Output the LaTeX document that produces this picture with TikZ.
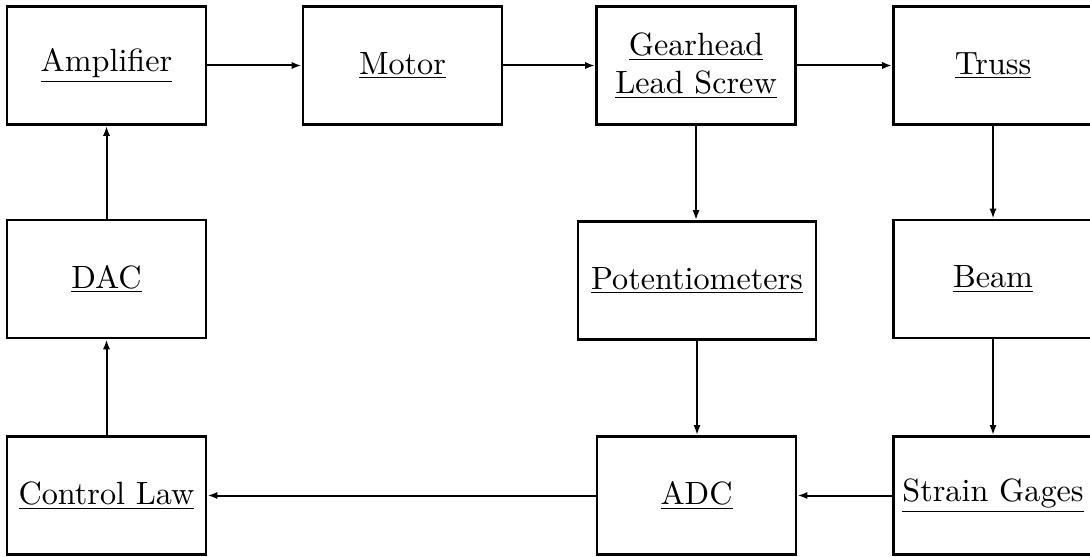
\documentclass[tikz,border=0pt]{standalone}
\usepackage{fontspec}
\setmainfont{lmroman10-regular.otf}
\usetikzlibrary{arrows.meta}
\begin{document}
\begin{tikzpicture}[x=0.5pt,y=-0.5pt,
  blk/.style={draw,line width=1.4pt,minimum width=99.5pt,minimum height=59pt,inner sep=0pt,align=center,font=\fontsize{16.1}{19}\selectfont},
  wideblk/.style={blk,minimum width=119pt},
  conn/.style={line width=1pt,-{Latex[length=5pt,width=3.6pt]}}]
\clip (0,0) rectangle (1090,556);
\node[blk] (amp) at (106.5,65.5) {\underline{Amplifier}};
\node[blk] (motor) at (402.5,65.5) {\underline{Motor}};
\node[blk] (gear) at (696,65.5) {\underline{Gearhead}\\\underline{Lead Screw}};
\node[blk] (truss) at (993,65.5) {\underline{Truss}};
\node[blk] (dac) at (106.5,279) {\underline{DAC}};
\node[wideblk] (pot) at (697,280.5) {\underline{Potentiometers}};
\node[blk] (beam) at (993,279) {\underline{Beam}};
\node[blk] (ctrl) at (106.5,495.5) {\underline{Control Law}};
\node[blk] (adc) at (696.5,495.5) {\underline{ADC}};
\node[blk] (strain) at (993,495.5) {\underline{Strain Gages}};
\draw[conn] (amp) -- (motor);
\draw[conn] (motor) -- (gear);
\draw[conn] (gear) -- (truss);
\draw[conn] (gear) -- (gear |- pot.north);
\draw[conn] (truss) -- (beam);
\draw[conn] (pot) -- (pot |- adc.north);
\draw[conn] (beam) -- (strain);
\draw[conn] (strain) -- (adc);
\draw[conn] (adc) -- (ctrl);
\draw[conn] (ctrl) -- (dac);
\draw[conn] (dac) -- (amp);
\end{tikzpicture}
\end{document}
